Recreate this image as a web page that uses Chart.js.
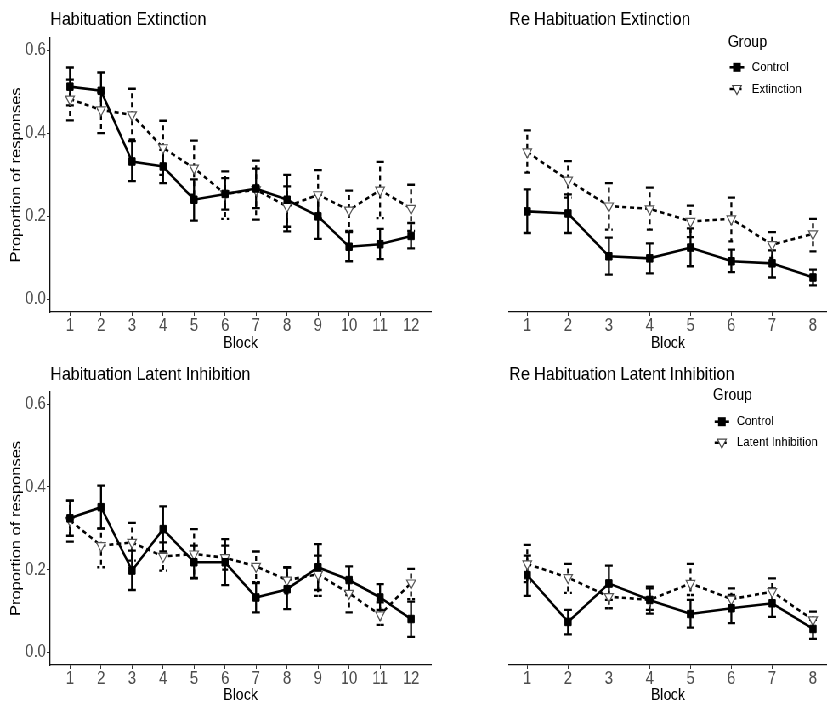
<!DOCTYPE html>
<html><head><meta charset="utf-8">
<script src="https://cdn.jsdelivr.net/npm/chart.js@4.4.1/dist/chart.umd.min.js"></script>
<style>
html,body{margin:0;padding:0;background:#fff;overflow:hidden;width:833px;height:705px}
#wrap{position:absolute;left:0;top:0;width:980px;height:705px;transform:scaleX(0.85);transform-origin:0 0}
#wrap canvas{position:absolute;left:0;top:0;width:980px;height:705px}
</style></head><body><div id="wrap">
<canvas id="c1" width="980" height="705"></canvas>
<canvas id="c2" width="980" height="705"></canvas>
<canvas id="c3" width="980" height="705"></canvas>
<canvas id="c4" width="980" height="705"></canvas>
</div>
<script>
// ---------- data ----------
const blocksHab = [1,2,3,4,5,6,7,8,9,10,11,12];
const blocksRe = [1,2,3,4,5,6,7,8];
const yTicks = [0, 0.2, 0.4, 0.6];

// Habituation Extinction
const habExtControl   = [0.512,0.502,0.332,0.320,0.240,0.254,0.267,0.240,0.200,0.127,0.133,0.153];
const habExtControlLo = [0.467,0.458,0.285,0.280,0.190,0.216,0.220,0.164,0.146,0.092,0.097,0.123];
const habExtControlHi = [0.558,0.546,0.381,0.360,0.289,0.292,0.315,0.300,0.252,0.162,0.170,0.184];
const habExtGroup     = [0.482,0.456,0.444,0.365,0.316,0.254,0.264,0.224,0.252,0.215,0.263,0.219];
const habExtGroupLo   = [0.431,0.400,0.385,0.300,0.252,0.194,0.192,0.175,0.195,0.165,0.196,0.165];
const habExtGroupHi   = [0.529,0.498,0.507,0.430,0.382,0.308,0.334,0.272,0.311,0.262,0.331,0.276];

// Re Habituation Extinction
const reExtControl   = [0.212,0.207,0.104,0.099,0.125,0.092,0.087,0.053];
const reExtControlLo = [0.160,0.160,0.060,0.063,0.080,0.066,0.053,0.034];
const reExtControlHi = [0.265,0.253,0.149,0.135,0.171,0.120,0.118,0.072];
const reExtGroup     = [0.355,0.287,0.225,0.218,0.188,0.194,0.132,0.158];
const reExtGroupLo   = [0.305,0.245,0.168,0.168,0.150,0.140,0.100,0.116];
const reExtGroupHi   = [0.407,0.333,0.280,0.269,0.226,0.245,0.162,0.194];

// Habituation Latent Inhibition
const habLiControl   = [0.324,0.351,0.198,0.298,0.218,0.218,0.133,0.153,0.206,0.175,0.133,0.081];
const habLiControlLo = [0.282,0.299,0.151,0.244,0.179,0.163,0.097,0.105,0.151,0.139,0.103,0.038];
const habLiControlHi = [0.367,0.403,0.246,0.353,0.258,0.274,0.168,0.206,0.262,0.208,0.165,0.123];
const habLiGroup     = [0.319,0.258,0.266,0.232,0.238,0.229,0.208,0.175,0.189,0.143,0.091,0.168];
const habLiGroupLo   = [0.268,0.206,0.222,0.198,0.180,0.200,0.170,0.143,0.137,0.097,0.067,0.129];
const habLiGroupHi   = [0.367,0.300,0.313,0.266,0.298,0.258,0.244,0.205,0.234,0.175,0.121,0.202];

// Re Habituation Latent Inhibition
const reLiControl   = [0.187,0.074,0.167,0.127,0.093,0.107,0.119,0.057];
const reLiControlLo = [0.137,0.044,0.127,0.094,0.060,0.071,0.086,0.033];
const reLiControlHi = [0.234,0.103,0.210,0.159,0.127,0.139,0.155,0.079];
const reLiGroup     = [0.214,0.181,0.135,0.127,0.167,0.129,0.147,0.079];
const reLiGroupLo   = [0.170,0.144,0.107,0.103,0.139,0.107,0.119,0.060];
const reLiGroupHi   = [0.260,0.214,0.160,0.155,0.214,0.155,0.179,0.099];

// ---------- drawing ----------
const FONT = '"Liberation Sans", Arial, Helvetica, sans-serif';

const errPlugin = {
  id: 'errbars',
  beforeDatasetsDraw(chart) {
    const ctx = chart.ctx, xS = chart.scales.x, yS = chart.scales.y;
    ctx.save();
    chart.data.datasets.forEach(ds => {
      ctx.strokeStyle = '#000';
      ctx.lineWidth = 2.3;
      ctx.lineCap = 'butt';
      ctx.setLineDash(ds.errDash);
      const w = 4.5;
      ds.data.forEach((p, i) => {
        const x = xS.getPixelForValue(p.x);
        const yl = yS.getPixelForValue(ds.lo[i]);
        const yh = yS.getPixelForValue(ds.hi[i]);
        ctx.beginPath();
        ctx.moveTo(x - w, yh); ctx.lineTo(x + w, yh); ctx.lineTo(x, yh);
        ctx.lineTo(x, yl); ctx.lineTo(x - w, yl); ctx.lineTo(x + w, yl);
        ctx.stroke();
      });
    });
    ctx.restore();
  }
};

const titlePlugin = {
  id: 'paneltitle',
  afterDraw(chart, args, opts) {
    const ctx = chart.ctx;
    ctx.save();
    ctx.font = '19px ' + FONT;
    ctx.fillStyle = '#000';
    ctx.textBaseline = 'middle';
    ctx.textAlign = 'left';
    ctx.fillText(opts.text, chart.chartArea.left, opts.y);
    ctx.restore();
  }
};

const legendPlugin = {
  id: 'grplegend',
  afterDraw(chart, args, opts) {
    if (!opts.show) return;
    const ctx = chart.ctx;
    ctx.save();
    ctx.fillStyle = '#000';
    ctx.textBaseline = 'middle';
    ctx.textAlign = 'left';
    ctx.font = '16.5px ' + FONT;
    ctx.fillText('Group', opts.x, opts.y);
    chart.data.datasets.forEach((ds, i) => {
      const yy = opts.itemY[i];
      const cx = opts.x + 10.5;
      ctx.strokeStyle = '#000';
      ctx.lineWidth = 2.6;
      ctx.setLineDash(ds.borderDash || []);
      ctx.beginPath(); ctx.moveTo(cx - 8.5, yy); ctx.lineTo(cx + 8.5, yy); ctx.stroke();
      ctx.setLineDash([]);
      if (ds.pointStyle === 'rect') {
        ctx.fillStyle = '#000';
        ctx.fillRect(cx - 4.5, yy - 4.5, 9, 9);
      } else {
        ctx.beginPath();
        ctx.moveTo(cx - 5.2, yy - 3.5); ctx.lineTo(cx + 5.2, yy - 3.5); ctx.lineTo(cx, yy + 5.5); ctx.closePath();
        ctx.fillStyle = '#fff'; ctx.fill();
        ctx.strokeStyle = '#444'; ctx.lineWidth = 1.2; ctx.stroke();
      }
      ctx.fillStyle = '#000';
      ctx.font = '13.5px ' + FONT;
      ctx.fillText(ds.label, opts.x + 28, yy);
    });
    ctx.restore();
  }
};

function panel(id, cfg) {
  const xs = cfg.blocks;
  const pts = vals => vals.map((v, i) => ({x: xs[i], y: v}));
  return new Chart(document.getElementById(id), {
    type: 'line',
    data: {
      datasets: [
        { label: 'Control', data: pts(cfg.ctrl), lo: cfg.ctrlLo, hi: cfg.ctrlHi, errDash: [],
          borderColor: '#000', borderWidth: 2.6, tension: 0,
          pointStyle: 'rect', pointRadius: 5.3, pointBackgroundColor: '#000',
          pointBorderColor: '#000', pointBorderWidth: 1 },
        { label: cfg.groupLabel, data: pts(cfg.grp), lo: cfg.grpLo, hi: cfg.grpHi, errDash: [5, 4],
          borderColor: '#000', borderWidth: 2.6, borderDash: [5, 4], tension: 0,
          pointStyle: 'triangle', pointRotation: 180, pointRadius: 6, pointBackgroundColor: '#fff',
          pointBorderColor: '#555', pointBorderWidth: 1.2 }
      ]
    },
    options: {
      responsive: false, animation: false, devicePixelRatio: 1,
      layout: { padding: cfg.pad },
      plugins: {
        legend: { display: false }, tooltip: { enabled: false }, title: { display: false },
        paneltitle: { text: cfg.title, y: cfg.titleY },
        grplegend: cfg.legend || { show: false }
      },
      scales: {
        x: {
          type: 'linear', min: cfg.xmin, max: cfg.xmax,
          afterBuildTicks: s => { s.ticks = xs.map(v => ({value: v})); },
          afterFit: s => { s.height = cfg.xh; },
          grid: { display: true, drawOnChartArea: false, drawTicks: true, tickLength: 4, color: '#333', lineWidth: 1 },
          border: { display: true, color: '#111', width: 1.3 },
          ticks: { font: { family: FONT, size: 17.5 }, color: '#4d4d4d', padding: 0, maxRotation: 0, autoSkip: false,
                   callback: v => String(v) },
          title: { display: true, text: 'Block', font: { family: FONT, size: 16.5 }, color: '#000',
                   padding: { top: 0, bottom: cfg.blockPad } }
        },
        y: {
          display: cfg.showY, min: -0.03, max: 0.629,
          afterBuildTicks: s => { s.ticks = yTicks.map(v => ({value: v})); },
          afterFit: s => { s.width = 59; },
          grid: { display: true, drawOnChartArea: false, drawTicks: true, tickLength: 4, color: '#333', lineWidth: 1 },
          border: { display: true, color: '#111', width: 1.3 },
          ticks: { font: { family: FONT, size: 17.5 }, color: '#4d4d4d', padding: 1,
                   callback: v => v.toFixed(1) },
          title: { display: true, text: 'Proportion of responses', font: { family: FONT, size: 16.5 }, color: '#000',
                   padding: { top: 10, bottom: 0 } }
        }
      }
    },
    plugins: [errPlugin, titlePlugin, legendPlugin]
  });
}

panel('c1', {
  blocks: blocksHab, title: 'Habituation Extinction', titleY: 20, groupLabel: 'Extinction',
  ctrl: habExtControl, ctrlLo: habExtControlLo, ctrlHi: habExtControlHi,
  grp: habExtGroup, grpLo: habExtGroupLo, grpHi: habExtGroupHi,
  xmin: 0.36, xmax: 12.64, showY: true, xh: 43, blockPad: 2,
  pad: { left: 0, top: 38, right: 473, bottom: 350 }
});
panel('c2', {
  blocks: blocksRe, title: 'Re Habituation Extinction', titleY: 20, groupLabel: 'Extinction',
  ctrl: reExtControl, ctrlLo: reExtControlLo, ctrlHi: reExtControlHi,
  grp: reExtGroup, grpLo: reExtGroupLo, grpHi: reExtGroupHi,
  xmin: 0.556, xmax: 8.34, showY: false, xh: 43, blockPad: 2,
  pad: { left: 540, top: 38, right: 0, bottom: 350 },
  legend: { show: true, x: 856.5, y: 42, itemY: [67.3, 89] }
});
panel('c3', {
  blocks: blocksHab, title: 'Habituation Latent Inhibition', titleY: 375, groupLabel: 'Latent Inhibition',
  ctrl: habLiControl, ctrlLo: habLiControlLo, ctrlHi: habLiControlHi,
  grp: habLiGroup, grpLo: habLiGroupLo, grpHi: habLiGroupHi,
  xmin: 0.36, xmax: 12.64, showY: true, xh: 40, blockPad: 0,
  pad: { left: 0, top: 392, right: 473, bottom: 0 }
});
panel('c4', {
  blocks: blocksRe, title: 'Re Habituation Latent Inhibition', titleY: 375, groupLabel: 'Latent Inhibition',
  ctrl: reLiControl, ctrlLo: reLiControlLo, ctrlHi: reLiControlHi,
  grp: reLiGroup, grpLo: reLiGroupLo, grpHi: reLiGroupHi,
  xmin: 0.556, xmax: 8.34, showY: false, xh: 40, blockPad: 0,
  pad: { left: 540, top: 392, right: 0, bottom: 0 },
  legend: { show: true, x: 838.8, y: 395, itemY: [421.7, 442.7] }
});
</script>
</body></html>
